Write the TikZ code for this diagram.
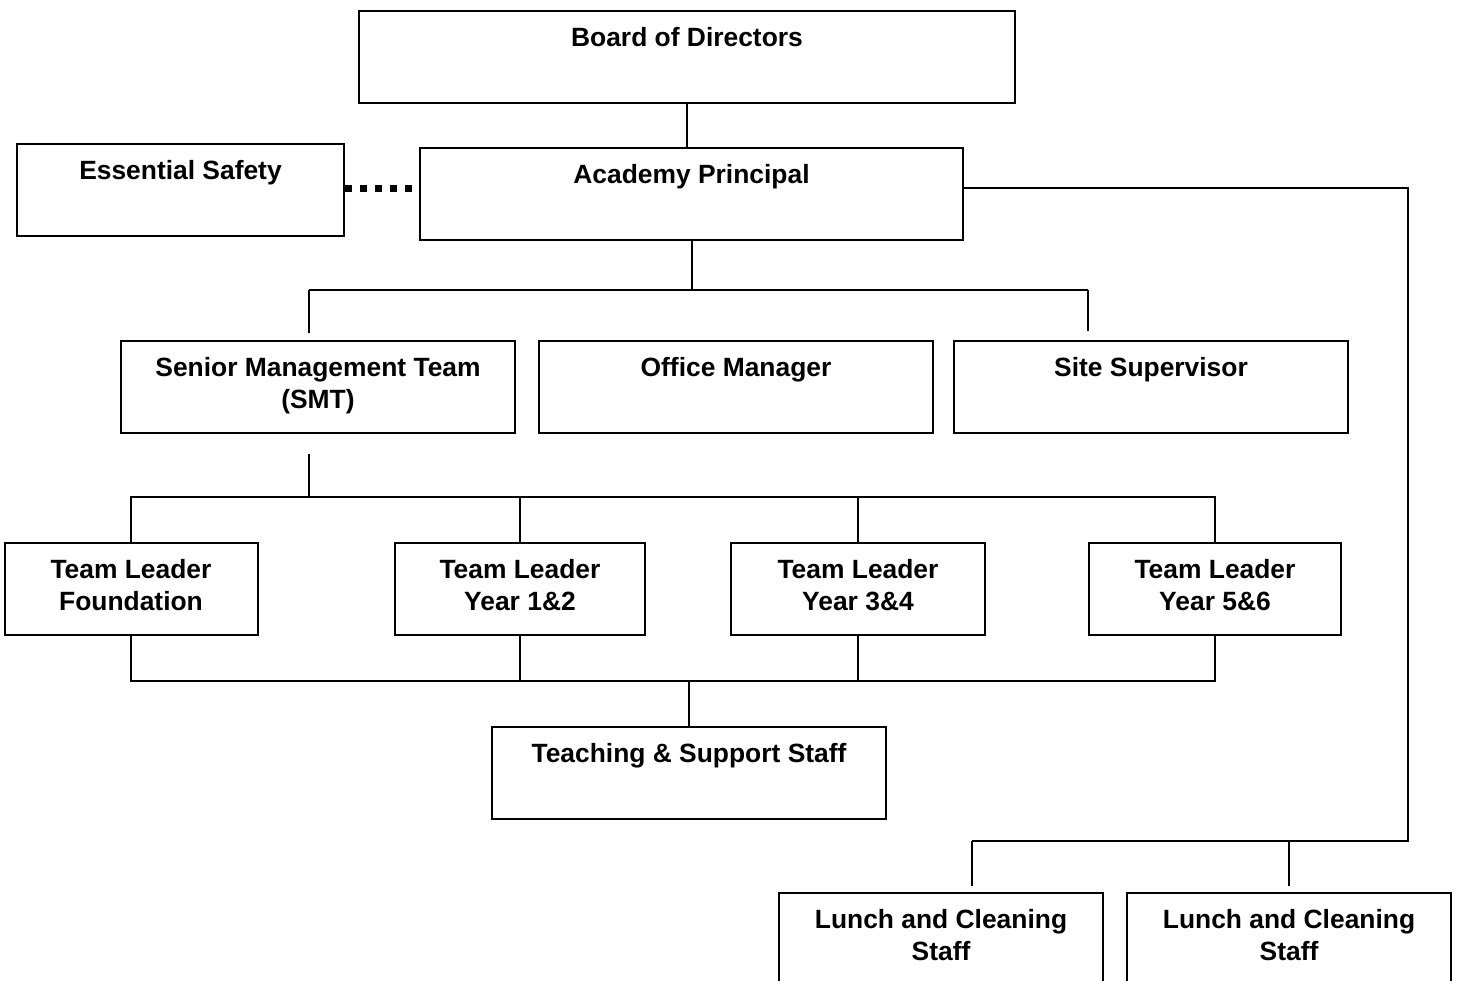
\documentclass[tikz,border=0pt]{standalone}
\usepackage{fontspec}
\setmainfont{Liberation Sans}
\usetikzlibrary{positioning}

\tikzset{
  role/.style={draw, line width=1pt, anchor=north, inner sep=0pt, align=center,
    font=\fontsize{13.2}{16}\selectfont\bfseries, text height=17.5pt, text depth=28.5pt},
  role2/.style={role, text height=33.5pt, text depth=12.5pt},
  link/.style={line width=1pt},
  dots/.style={line width=3.5pt, dash pattern=on 3.5pt off 4pt},
}

\begin{document}
\begin{tikzpicture}[x=0.5pt,y=-0.5pt]
	\clip (0,0) rectangle (1460,980);
	% boxes
	\node[role,minimum width=328pt] (board) at (687,10) {Board of Directors};
	\node[role,minimum width=163.5pt] (safety) at (180.5,143) {Essential Safety};
	\node[role,minimum width=271.5pt] (principal) at (691.5,147) {Academy Principal};
	\node[role2,minimum width=197pt] (smt) at (318,340) {Senior Management Team\\(SMT)};
	\node[role,minimum width=197pt] (office) [right=11pt of smt] {Office Manager};
	\node[role,minimum width=197pt] (site) [right=9.5pt of office] {Site Supervisor};
	\node[role2,minimum width=126.5pt] (found) at (131,542) {Team Leader\\Foundation};
	\node[role2,minimum width=125pt] (yr12) at (520,542) {Team Leader\\Year 1\&2};
	\node[role2,minimum width=127pt] (yr34) at (858,542) {Team Leader\\Year 3\&4};
	\node[role2,minimum width=126pt] (yr56) at (1215,542) {Team Leader\\Year 5\&6};
	\node[role,minimum width=197pt] (staff) at (689,726) {Teaching \& Support Staff};
	\node[role2,minimum width=162pt] (lunchA) at (941,892) {Lunch and Cleaning\\Staff};
	\node[role2,minimum width=162pt] (lunchB) at (1289,892) {Lunch and Cleaning\\Staff};

	% junctions
	\coordinate (busL) at (309,290);
	\coordinate (busR) at (1088,290);
	\coordinate (teamBus) at (309,497);
	\coordinate (staffBus) at (689,681);
	\coordinate (lunchL) at (972,841);
	\coordinate (lunchR) at (1408,841);

	% connectors
	\draw[link] (board.south) -- (board.south |- principal.north);
	\draw[dots] (safety.east |- 0,188) -- (principal.west |- 0,188);
	\draw[link] (principal.south) -- (principal.south |- busL);
	\draw[link] (busL) -- (busR);
	\draw[link, shorten >=3.5pt] (busL) -- (busL |- smt.north);
	\draw[link, shorten >=4.5pt] (busR) -- (busR |- site.north);
	\draw[link, shorten <=10pt] (teamBus |- smt.south) -- (teamBus);
	\draw[link] (found.north) |- (yr56.north |- teamBus) -- (yr56.north);
	\foreach \t in {yr12,yr34}
		\draw[link] (\t.north |- teamBus) -- (\t.north);
	\draw[link] (found.south) |- (yr56.south |- staffBus) -- (yr56.south);
	\foreach \t in {yr12,yr34}
		\draw[link] (\t.south) -- (\t.south |- staffBus);
	\draw[link] (staffBus) -- (staff.north);
	\draw[link] (principal.east |- 0,188) -| (lunchR) -- (lunchL);
	\draw[link, shorten >=3pt] (lunchL) -- (lunchL |- lunchA.north);
	\draw[link, shorten >=3pt] (lunchB.north |- lunchR) -- (lunchB.north);
\end{tikzpicture}
\end{document}
